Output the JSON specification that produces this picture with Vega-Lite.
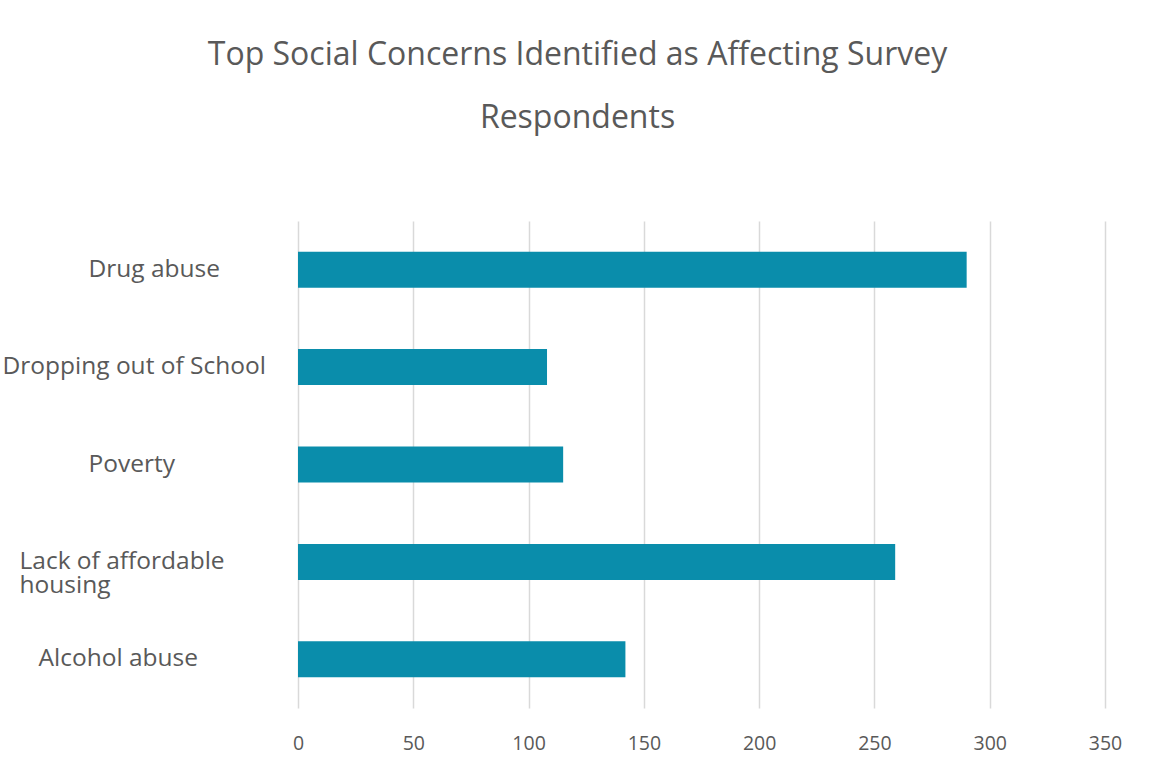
{
  "$schema": "https://vega.github.io/schema/vega-lite/v6.json",
  "width": 807,
  "height": 487,
  "autosize": {"type": "none"},
  "padding": {"left": 298, "top": 221, "right": 49, "bottom": 74},
  "background": "white",
  "title": {
    "text": ["Top Social Concerns Identified as Affecting Survey", "Respondents"],
    "anchor": "middle",
    "frame": "group",
    "dx": -124,
    "font": "Open Sans",
    "fontSize": 32,
    "fontWeight": "normal",
    "color": "#595959",
    "lineHeight": 63,
    "offset": 86
  },
  "data": {
    "values": [
      {"concern": "Drug abuse", "count": 290},
      {"concern": "Dropping out of School", "count": 108},
      {"concern": "Poverty", "count": 115},
      {"concern": "Lack of affordable housing", "count": 259},
      {"concern": "Alcohol abuse", "count": 142}
    ]
  },
  "mark": {"type": "bar", "color": "#0A8DAB"},
  "encoding": {
    "y": {
      "field": "concern",
      "type": "nominal",
      "sort": null,
      "scale": {"paddingInner": 0.63, "paddingOuter": 0.315},
      "axis": {
        "title": null,
        "domain": false,
        "ticks": false,
        "labelFont": "Open Sans",
        "labelFontSize": 24.5,
        "labelColor": "#595959",
        "labelAlign": "left",
        "labelLineHeight": 24,
        "labelLimit": 400,
        "labelExpr": "datum.label == 'Lack of affordable housing' ? ['Lack of affordable', 'housing'] : datum.label",
        "labelPadding": {
          "condition": [
            {"test": "datum.label == 'Dropping out of School'", "value": 296},
            {"test": "datum.label == 'Lack of affordable housing'", "value": 279},
            {"test": "datum.label == 'Alcohol abuse'", "value": 260}
          ],
          "value": 210
        }
      }
    },
    "x": {
      "field": "count",
      "type": "quantitative",
      "scale": {"domain": [0, 350], "nice": false},
      "axis": {
        "title": null,
        "values": [0, 50, 100, 150, 200, 250, 300, 350],
        "domain": false,
        "ticks": false,
        "grid": true,
        "gridColor": "#d9d9d9",
        "gridWidth": 1.5,
        "labelFlush": false,
        "labelFont": "Open Sans",
        "labelFontSize": 19.5,
        "labelColor": "#595959",
        "labelPadding": 26
      }
    }
  },
  "config": {"view": {"stroke": null}}
}
